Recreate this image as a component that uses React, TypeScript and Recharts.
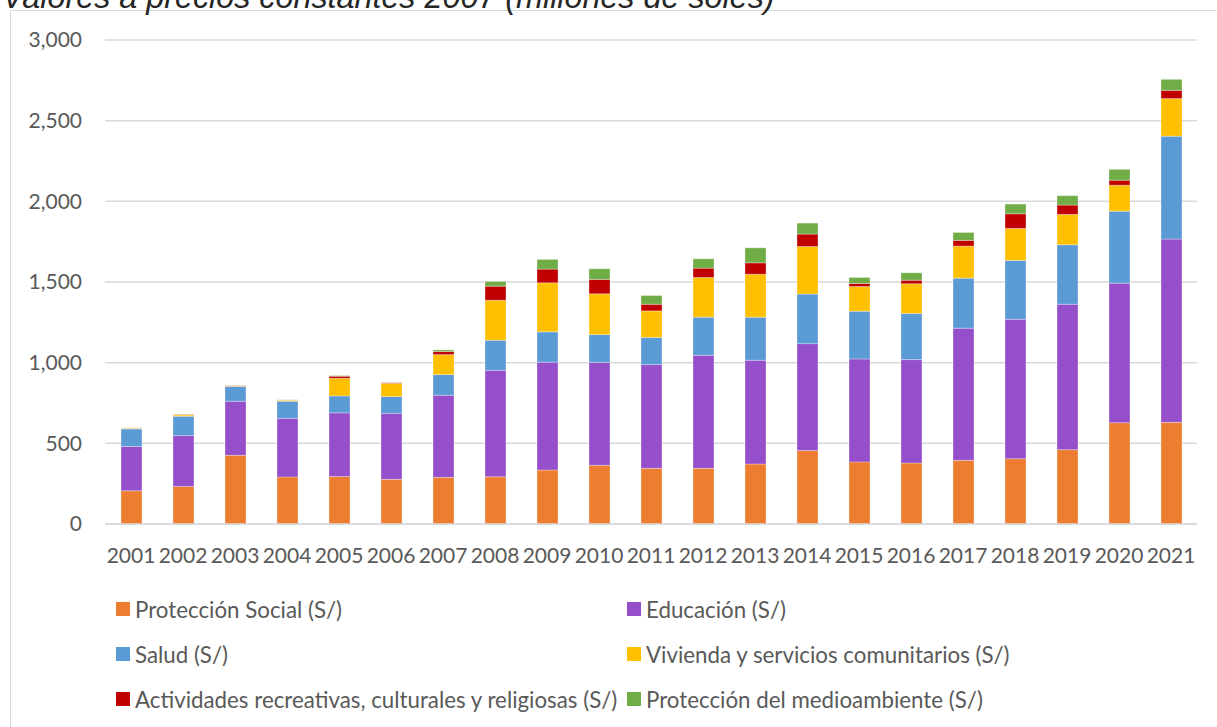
import React from 'react'
import { Bar, BarChart, CartesianGrid, XAxis, YAxis } from 'recharts'

const years = ['2001', '2002', '2003', '2004', '2005', '2006', '2007', '2008', '2009', '2010', '2011', '2012', '2013', '2014', '2015', '2016', '2017', '2018', '2019', '2020', '2021']

const proteccionSocial = [206, 233, 426, 292, 295, 277, 289, 293, 335, 364, 345, 345, 372, 455, 385, 378, 395, 405, 461, 628, 630]
const educacion = [275, 315, 335, 363, 394, 409, 509, 660, 668, 637, 643, 701, 643, 663, 638, 641, 819, 864, 901, 865, 1136]
const salud = [108, 120, 91, 106, 105, 104, 128, 186, 188, 173, 168, 236, 267, 307, 296, 286, 310, 365, 369, 446, 638]
const vivienda = [5, 8, 2, 7, 109, 82, 124, 248, 304, 253, 165, 246, 266, 295, 153, 184, 198, 198, 188, 161, 233]
const actividades = [1, 3, 3, 1, 13, 4, 19, 87, 85, 89, 41, 58, 71, 77, 19, 22, 36, 91, 58, 31, 51]
const medioambiente = [1, 2, 1, 1, 4, 2, 10, 29, 60, 66, 54, 58, 93, 68, 37, 46, 49, 60, 58, 67, 68]

const yTicks = [0, 500, 1000, 1500, 2000, 2500, 3000]

const series = [
  { key: 'ps', name: 'Protección Social (S/)', color: '#ED7D31', values: proteccionSocial },
  { key: 'ed', name: 'Educación (S/)', color: '#954FCA', values: educacion },
  { key: 'sa', name: 'Salud (S/)', color: '#5B9BD5', values: salud },
  { key: 'vi', name: 'Vivienda y servicios comunitarios (S/)', color: '#FFC000', values: vivienda },
  { key: 'ac', name: 'Actividades recreativas, culturales y religiosas (S/)', color: '#C00000', values: actividades },
  { key: 'ma', name: 'Protección del medioambiente (S/)', color: '#70AD47', values: medioambiente },
]

const data = years.map((year, i) => {
  const row: Record<string, number | string> = { year }
  series.forEach((s) => {
    row[s.key] = s.values[i]
  })
  return row
})

const font = 'Lato, "Open Sans", sans-serif'
const tickStyle = { fill: '#595959', fontSize: 21, fontFamily: font }

export default function App() {
  return (
    <div style={{ position: 'absolute', left: 0, top: 0, width: 1217, height: 727, overflow: 'hidden', background: '#fff' }}>
      <div style={{ position: 'absolute', left: 10, top: 10, width: 1260, height: 760, border: '1px solid #d9d9d9' }} />
      {/* title sits partly above the top edge, as in the source image */}
      <div
        style={{
          position: 'absolute',
          left: 2,
          top: -19,
          lineHeight: '32px',
          fontSize: 32.3,
          fontStyle: 'italic',
          fontFamily: '"Liberation Sans", Arial, sans-serif',
          color: '#262626',
          whiteSpace: 'nowrap',
        }}
      >
        Valores a precios constantes 2007 (millones de soles)
      </div>
      <div style={{ position: 'absolute', left: 0, top: 0 }}>
        <BarChart width={1217} height={727} data={data} margin={{ top: 40, right: 20, left: 0, bottom: 173 }} barSize={21}>
          <CartesianGrid vertical={false} stroke="#d9d9d9" strokeWidth={1.5} />
          <XAxis
            dataKey="year"
            height={30}
            interval={0}
            tickLine={false}
            tickMargin={18}
            axisLine={{ stroke: '#d9d9d9', strokeWidth: 1.5 }}
            tick={tickStyle}
          />
          <YAxis
            width={105}
            domain={[0, 3000]}
            ticks={yTicks}
            axisLine={false}
            tickLine={false}
            tickMargin={17}
            tick={tickStyle}
            tickFormatter={(v: number) => v.toLocaleString('en-US')}
          />
          {series.map((s) => (
            <Bar
              key={s.key}
              dataKey={s.key}
              name={s.name}
              stackId="total"
              fill={s.color}
              stroke="#ffffff"
              strokeOpacity={0.3}
              strokeWidth={1}
              isAnimationActive={false}
            />
          ))}
        </BarChart>
      </div>
      {series.map((s, i) => {
        const col = i % 2
        const row = Math.floor(i / 2)
        return (
          <div
            key={s.key}
            style={{
              position: 'absolute',
              left: col === 0 ? 116 : 627,
              top: 609 + row * 45 - 14,
              height: 28,
              display: 'flex',
              alignItems: 'center',
              whiteSpace: 'nowrap',
              fontFamily: font,
              fontSize: 22.3,
              color: '#595959',
            }}
          >
            <span style={{ display: 'inline-block', width: 14, height: 14, background: s.color, marginRight: 5 }} />
            {s.name}
          </div>
        )
      })}
    </div>
  )
}
